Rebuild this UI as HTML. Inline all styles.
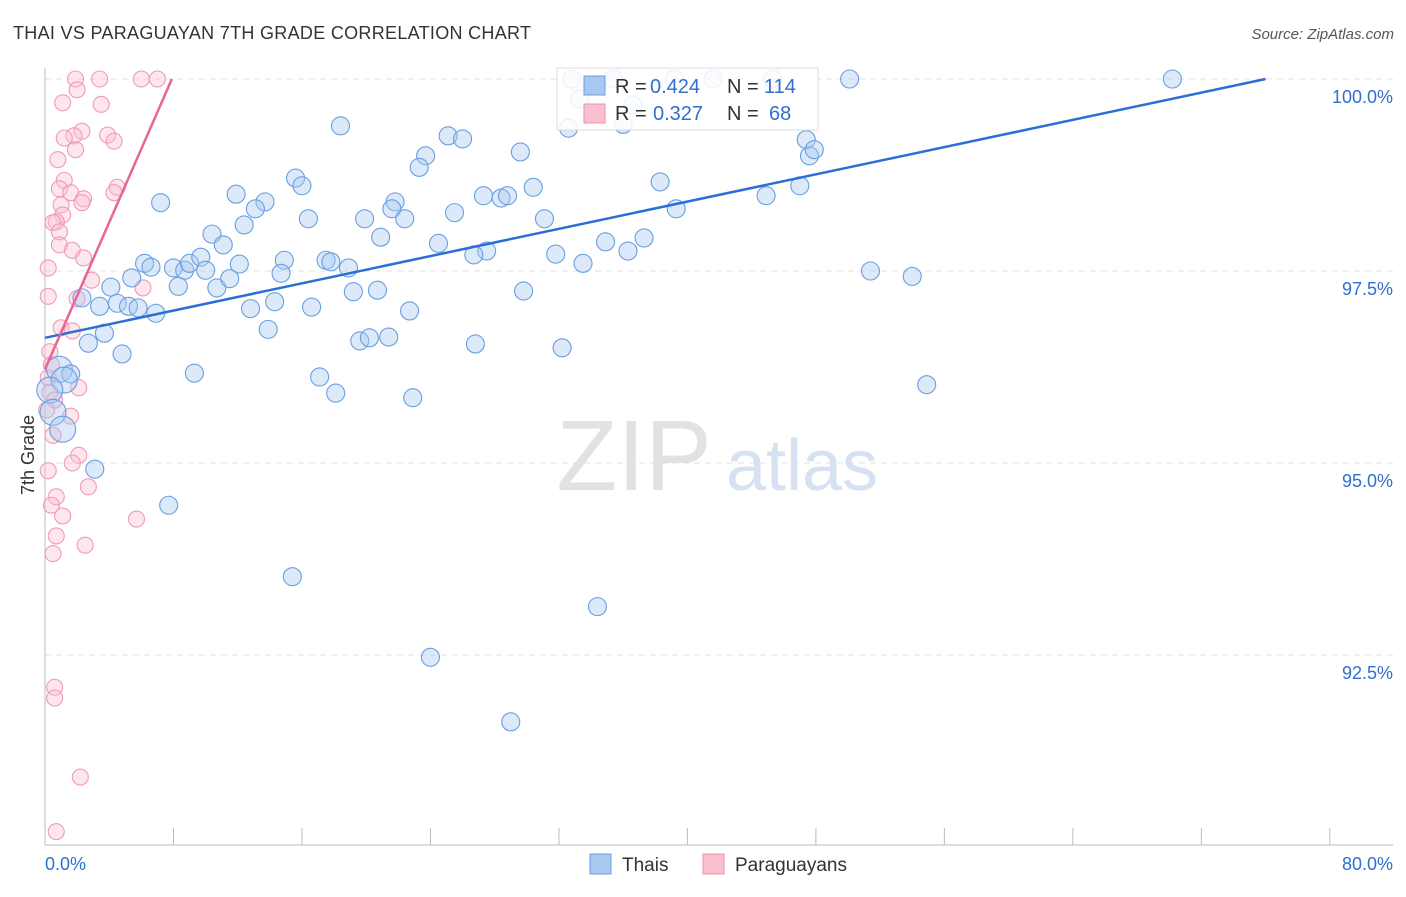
<!DOCTYPE html>
<html><head><meta charset="utf-8"><style>
body{margin:0;background:#fff;font-family:"Liberation Sans",sans-serif;}
svg text{font-family:"Liberation Sans",sans-serif;}
</style></head><body>
<svg id="chart" width="1406" height="892">
<text x="13" y="39" font-size="18" fill="#333" textLength="518">THAI VS PARAGUAYAN 7TH GRADE CORRELATION CHART</text>
<text x="1394" y="39" font-size="15" fill="#555" font-style="italic" text-anchor="end">Source: ZipAtlas.com</text>
<g><text x="634" y="490" font-size="100" fill="#e2e2e2" font-family="Liberation Serif" text-anchor="middle">ZIP</text><text x="802" y="490" font-size="72" fill="#d6e2f2" text-anchor="middle">atlas</text></g>
<g id="grid"></g><g id="axes"></g><g id="pts"></g><g id="lines"></g>
<text transform="translate(34,455) rotate(-90)" font-size="18" fill="#333" text-anchor="middle">7th Grade</text>
<g>
<rect x="557" y="68" width="261" height="62" fill="#fff" fill-opacity="0.85" stroke="#ddd"/>
<rect x="584" y="76" width="21" height="19" fill="#a8c8f0" stroke="#6a9ee0"/>
<rect x="584" y="104" width="21" height="19" fill="#f9c0d0" stroke="#f090b0"/>
<text x="615" y="93" font-size="20" fill="#333">R =</text>
<text x="650" y="93" font-size="20" fill="#2f6fd0">0.424</text>
<text x="727" y="93" font-size="20" fill="#333">N =</text>
<text x="764" y="93" font-size="20" fill="#2f6fd0">114</text>
<text x="615" y="120" font-size="20" fill="#333">R =</text>
<text x="653" y="120" font-size="20" fill="#2f6fd0">0.327</text>
<text x="727" y="120" font-size="20" fill="#333">N =</text>
<text x="769" y="120" font-size="20" fill="#2f6fd0">68</text>
</g>
<g>
<rect x="590" y="854" width="21" height="20" fill="#a8c8f0" stroke="#6a9ee0"/>
<text x="622" y="871" font-size="19" fill="#333">Thais</text>
<rect x="703" y="854" width="21" height="20" fill="#f9c0d0" stroke="#f090b0"/>
<text x="735" y="871" font-size="19" fill="#333">Paraguayans</text>
</g>
</svg>
<script>
const thaiX=[32.8,35.4,39.2,41.6,45.3,50.1,70.2,33.3,36.6,32.6,36.0,18.4,25.1,26.0,29.6,23.7,23.3,47.4,47.6,47.9,15.6,16.0,11.9,7.2,13.7,13.1,21.8,21.6,22.4,25.5,19.9,16.4,12.4,27.3,28.4,28.8,30.4,38.3,44.9,47.0,39.3,31.1,10.4,11.1,20.9,24.5,27.5,26.7,31.8,33.5,34.9,36.3,37.3,6.2,6.6,8.0,8.7,9.0,9.7,10.0,12.1,14.9,14.7,17.5,17.8,18.9,5.4,8.3,10.7,11.5,19.2,20.7,29.8,51.4,54.0,4.1,2.3,3.4,4.5,5.2,5.8,6.9,12.8,14.3,16.6,22.7,13.9,3.7,2.7,4.8,19.6,20.2,21.4,26.8,32.2,0.9,1.6,1.2,9.3,17.1,18.1,22.9,54.9,0.3,0.5,1.1,3.1,7.7,15.4,34.4,24.0,29.0];
const thaiY=[100,100,100,100,100,100,100,99.74,99.66,99.36,99.41,99.39,99.26,99.22,99.05,99.0,98.85,99.21,99.0,99.08,98.71,98.61,98.50,98.39,98.40,98.31,98.40,98.31,98.18,98.26,98.18,98.18,98.10,98.48,98.45,98.48,98.59,98.66,98.48,98.61,98.31,98.18,97.98,97.84,97.94,97.86,97.76,97.71,97.72,97.60,97.88,97.76,97.93,97.60,97.55,97.54,97.51,97.60,97.68,97.51,97.59,97.64,97.47,97.64,97.62,97.54,97.41,97.30,97.28,97.40,97.23,97.25,97.24,97.50,97.43,97.29,97.15,97.04,97.08,97.04,97.02,96.95,97.01,97.10,97.03,96.98,96.74,96.69,96.56,96.42,96.59,96.63,96.64,96.55,96.50,96.22,96.16,96.08,96.17,96.12,95.91,95.85,96.02,95.95,95.66,95.44,94.92,94.45,93.52,93.13,92.47,91.63];
const parX=[1.9,3.4,6.0,7.0,2.0,1.1,3.5,2.3,1.8,1.2,3.9,4.3,1.9,0.8,1.2,0.9,1.6,2.4,2.3,4.5,4.3,1.0,1.1,0.7,0.5,0.9,0.9,1.7,2.4,0.2,2.9,0.2,6.1,2.0,1.0,1.7,0.3,0.4,0.2,0.3,2.1,0.6,1.6,0.1,0.5,2.1,1.7,0.2,2.7,0.7,0.4,1.1,5.7,0.7,2.5,0.5,0.6,0.6,2.2,0.7];
const parY=[100,100,100,100,99.86,99.69,99.67,99.32,99.26,99.23,99.27,99.19,99.08,98.95,98.68,98.57,98.52,98.44,98.39,98.59,98.52,98.36,98.23,98.14,98.13,98.01,97.84,97.77,97.67,97.54,97.38,97.17,97.28,97.14,96.76,96.72,96.45,96.28,96.11,95.92,95.98,95.82,95.61,95.69,95.36,95.10,95.0,94.90,94.69,94.56,94.45,94.31,94.27,94.05,93.93,93.82,92.08,91.94,90.91,90.20];
const thaiTrend=[[0,96.63],[76.0,100]];
const parTrend=[[0,96.22],[7.9,100]];
const yTicks=[100,97.5,95,92.5];
const yTickLabels=["100.0%","97.5%","95.0%","92.5%"];
const xTicks=[0,8,16,24,32,40,48,56,64,72,80];

const sx=v=>45+v*16.06;
const sy=v=>79+(100-v)*76.8;
const NS="http://www.w3.org/2000/svg";
function mk(tag,attrs,parent){const e=document.createElementNS(NS,tag);for(const k in attrs)e.setAttribute(k,attrs[k]);document.getElementById(parent).appendChild(e);return e;}
yTicks.forEach((t,i)=>{
  const g=mk('line',{x1:45,x2:1393,y1:sy(t),y2:sy(t),stroke:'#e0e0e0','stroke-dasharray':'6,5'},'grid');
  
  
  const l=mk('text',{x:1393,y:sy(t)+24,'font-size':18,fill:'#2f6fd0','text-anchor':'end'},'grid');
  l.textContent=yTickLabels[i];
  
  
});
const ax=mk('line',{x1:45,x2:45,y1:68,y2:845,stroke:'#bbb'},'axes');


const bx=mk('line',{x1:45,x2:1393,y1:845,y2:845,stroke:'#bbb'},'axes');


xTicks.forEach(t=>{
  const k=mk('line',{x1:sx(t),x2:sx(t),y1:828,y2:845,stroke:'#bbb'},'axes');
  
  
});
const x0=mk('text',{x:45,y:870,'font-size':18,fill:'#2f6fd0'},'axes');x0.textContent='0.0%';


const x1=mk('text',{x:1393,y:870,'font-size':18,fill:'#2f6fd0','text-anchor':'end'},'axes');x1.textContent='80.0%';


parX.forEach((v,i)=>{
  const c=mk('circle',{cx:sx(v),cy:sy(parY[i]),r:8,fill:'#f9c0d0','fill-opacity':0.4,stroke:'#f09ab8','stroke-width':1.1},'pts');
  
  
});
thaiX.forEach((v,i)=>{
  const c=mk('circle',{cx:sx(v),cy:sy(thaiY[i]),r:(v<1.5&&thaiY[i]<96.3&&thaiY[i]>95.3)?13:9,fill:'#a8c8f0','fill-opacity':0.4,stroke:'#6a9ee0','stroke-width':1.1},'pts');
  
  
});
const tl=mk('line',{x1:sx(thaiTrend[0][0]),y1:sy(thaiTrend[0][1]),x2:sx(thaiTrend[1][0]),y2:sy(thaiTrend[1][1]),stroke:'#2a6fd6','stroke-width':2.5},'lines');


const pl=mk('line',{x1:sx(parTrend[0][0]),y1:sy(parTrend[0][1]),x2:sx(parTrend[1][0]),y2:sy(parTrend[1][1]),stroke:'#e8649a','stroke-width':2.5},'lines');


</script>
</body></html>
